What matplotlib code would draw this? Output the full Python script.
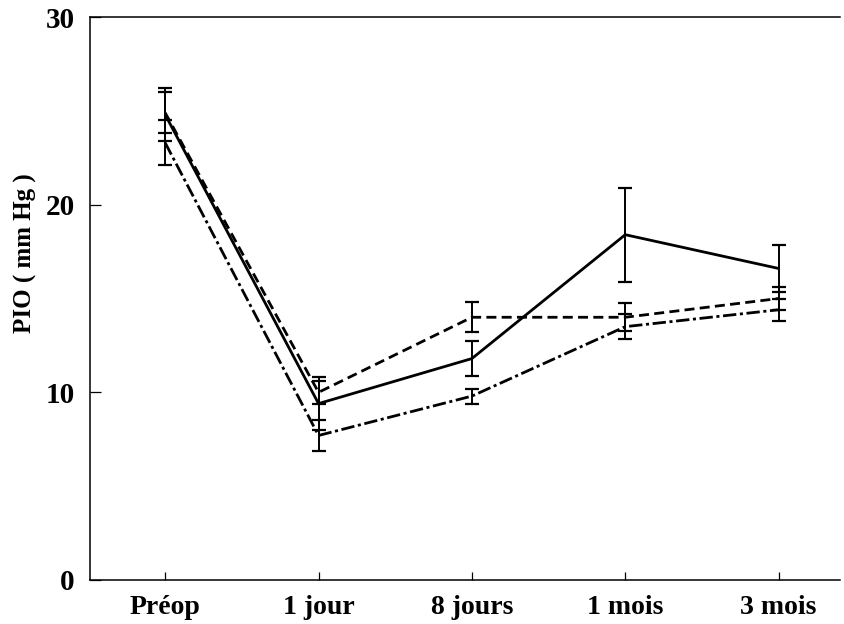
import numpy as np
import matplotlib as mp
mp.use("Agg")
import matplotlib.pyplot as plt

# time points
labels = ["Préop", "1 jour", "8 jours", "1 mois", "3 mois"]

# mean IOP and error (mm Hg)
solid_mean = [24.8, 9.4, 11.8, 18.4, 16.6]
solid_err = [1.4, 1.4, 0.95, 2.5, 1.25]
dash_mean = [24.9, 10.0, 14.0, 14.0, 15.0]
dash_err = [1.1, 0.6, 0.8, 0.75, 0.6]
dashdot_mean = [23.3, 7.7, 9.8, 13.5, 14.4]
dashdot_err = [1.2, 0.8, 0.4, 0.65, 0.6]

mp.rcParams.update({
  "font.family": ["Liberation Serif", "DejaVu Serif"],
  "font.weight": "bold",
  "font.size": 20,
})

fig = plt.figure(figsize=(8.45, 6.24), dpi=100)
ax = fig.add_axes([90/845, 44/624, 750/845, 563/624])

x = np.arange(len(labels))
series = [
  (solid_mean, solid_err, (0, ())),
  (dash_mean, dash_err, (0, (3.6, 1.9))),
  (dashdot_mean, dashdot_err, (0, (4.8, 1.3, 1.1, 1.3))),
]
for m, e, ls in series:
  ax.plot(x, m, color="black", lw=2.0, linestyle=ls)
  ax.errorbar(x, m, yerr=e, fmt="none", ecolor="black",
              elinewidth=1.4, capsize=5, capthick=1.6)

ax.set_xlim(-0.49, 4.4)
ax.set_ylim(0, 30)
ax.set_xticks(x)
ax.set_xticklabels(labels, fontweight="bold")
ax.set_yticks([0, 10, 20, 30])
ax.set_yticklabels(["0", "10", "20", "30"], fontsize=21)
ax.tick_params(axis="y", direction="in", length=8, width=0.9, pad=11)
ax.tick_params(axis="x", direction="in", length=6, width=0.9, pad=11)
ax.spines["right"].set_visible(False)
for s in ["left", "bottom", "top"]:
  ax.spines[s].set_linewidth(1.1)

ax.set_ylabel("PIO ( mm Hg )", fontweight="bold", fontsize=18)
ax.yaxis.set_label_coords(-0.071, 0.58)

fig.savefig("out.png", dpi=100)
